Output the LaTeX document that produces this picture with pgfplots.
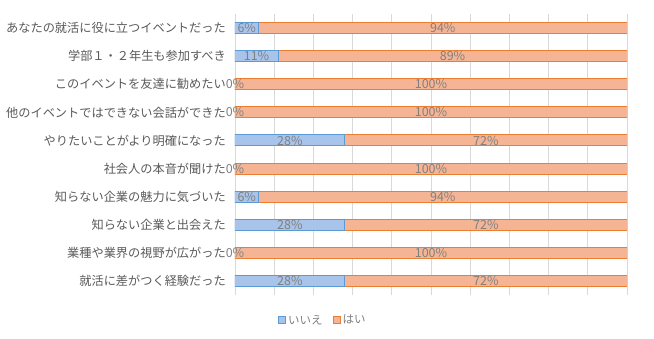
\documentclass[border=0pt]{standalone}
\usepackage{fontspec}
\setmainfont{Noto Sans CJK JP}
\usepackage{pgfplots}
\usepackage{pgfplotstable}
\pgfplotsset{compat=1.18}
\definecolor{noFill}{HTML}{A9C4EA}
\definecolor{noEdge}{HTML}{5B9BD5}
\definecolor{yesFill}{HTML}{F5B595}
\definecolor{yesEdge}{HTML}{ED7D31}
\definecolor{gridc}{HTML}{D9D9D9}
\definecolor{labc}{HTML}{595959}
\definecolor{valc}{HTML}{808080}
\pgfplotstableread{
idx no yes
0 6 94
1 11 89
2 0 100
3 0 100
4 28 72
5 0 100
6 6 94
7 28 72
8 0 100
9 28 72
}\data
\begin{document}
\begin{tikzpicture}
\path[use as bounding box] (0,0) rectangle (654bp,-339bp);
\pgfplotsset{
  base/.style={
    scale only axis, width=392bp, height=281bp,
    anchor=north west, at={(235bp,-14bp)},
    xmin=0, xmax=100, ymin=-0.5, ymax=9.5, y dir=reverse,
  }
}
\begin{axis}[base,
  xbar stacked, bar width=11bp,
  axis line style={draw=none},
  xtick={0,10,...,100}, xticklabels={},
  xmajorgrids, grid style={gridc, line width=0.75bp},
  major tick length=0pt,
  ytick={0,...,9},
  yticklabels={あなたの就活に役に立つイベントだった,学部１・２年生も参加すべき,このイベントを友達に勧めたい,他のイベントではできない会話ができた,やりたいことがより明確になった,社会人の本音が聞けた,知らない企業の魅力に気づいた,知らない企業と出会えた,業種や業界の視野が広がった,就活に差がつく経験だった},
  yticklabel style={font=\fontsize{12.2bp}{14bp}\selectfont, text=labc, inner sep=0pt, xshift=-9bp},
  legend style={at={(0.224,-0.09)}, anchor=center, draw=none, legend columns=2,
    font=\fontsize{11.5bp}{13bp}\selectfont, text=valc,
    /tikz/every even column/.append style={column sep=8bp}},
  legend image code/.code={\draw[#1, line width=1bp] (0bp,-3.5bp) rectangle (7bp,3.5bp);},
]
\addplot[fill=noFill, draw=noEdge, line width=1bp] table[x=no, y=idx] {\data};
\addlegendentry{いいえ}
\addplot[fill=yesFill, draw=yesEdge, line width=1bp] table[x=yes, y=idx] {\data};
\addlegendentry{はい}
\end{axis}
\begin{axis}[base, hide axis]
\addplot[draw=none, mark=none, nodes near coords={\pgfplotspointmeta\%}, point meta=explicit symbolic,
  every node near coord/.append style={anchor=center, font=\fontsize{12.5bp}{14bp}\selectfont, text=valc}]
  table[x expr=\thisrow{no}/2, y=idx, meta=no] {\data};
\addplot[draw=none, mark=none, nodes near coords={\pgfplotspointmeta\%}, point meta=explicit symbolic,
  every node near coord/.append style={anchor=center, font=\fontsize{12.5bp}{14bp}\selectfont, text=valc}]
  table[x expr=\thisrow{no}+\thisrow{yes}/2, y=idx, meta=yes] {\data};
\end{axis}
\end{tikzpicture}
\end{document}
